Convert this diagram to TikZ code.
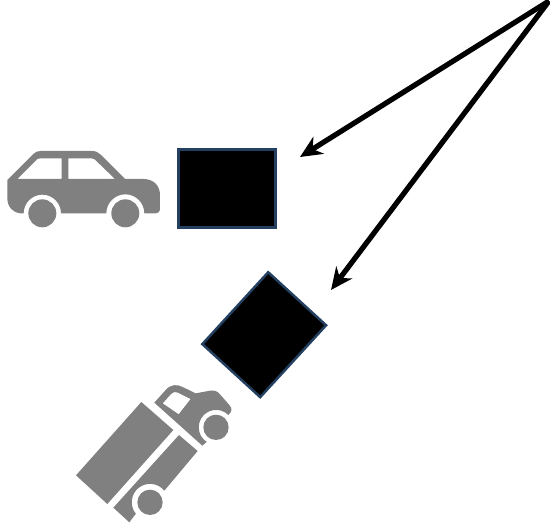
\documentclass[tikz,border=0pt]{standalone}
\usetikzlibrary{arrows.meta}
\definecolor{iconc}{HTML}{808080}
\definecolor{edgec}{HTML}{244061}

\begin{document}
\begin{tikzpicture}[
    x=0.02cm, y=-0.02cm,
    blockbox/.style={draw=edgec, fill=black, line width=0.05cm, minimum width=1.95cm, minimum height=1.57cm, inner sep=0pt, outer sep=0pt},
    arrow/.style={-{Stealth[length=0.44cm, width=0.4cm]}, line width=0.105cm},
    icon/.style={fill=iconc, even odd rule},
    zoomed/.style={x=0.02cm/3, y=-0.02cm/3}
]
\useasboundingbox (0,0) rectangle (550,523);

\node[blockbox] (block1) at (227,188.5) {};
\node[blockbox, rotate=47.5] (block2) at (264.2,334.7) {};

\coordinate (apex) at (549,1);
\coordinate (tip1) at (300,157);
\coordinate (tip2) at (331,290);
\draw[arrow] (apex) -- (tip1);
\draw[arrow] (apex) -- (tip2);

% car
\begin{scope}[shift={(0,130)}, zoomed]
\fill[icon] (22,150) -- (100,72) .. controls (108,65) and (112,63) .. (122,63) -- (275,63)
    .. controls (288,63) and (295,67) .. (302,74) -- (375,147) -- (430,147)
    .. controls (462,147) and (480,168) .. (480,195) -- (480,235)
    .. controls (480,245) and (475,250) .. (465,250) -- (433,250)
    arc (0:-180:57) -- (183,250) arc (0:-180:56) -- (62,250)
    .. controls (38,248) and (22,230) .. (22,205) -- cycle
    (52,147) -- (112,87) .. controls (114,85) and (116,85) .. (120,85) -- (185,85) -- (185,147) -- cycle
    (205,85) -- (275,85) .. controls (279,85) and (281,85) .. (284,88) -- (345,147) -- (205,147) -- cycle;
\fill[icon] (127,250) circle (42);
\fill[icon] (376,250) circle (42);
\end{scope}

% truck
\begin{scope}[shift={(70,370)}, zoomed]
\fill[icon] (214,96) -- (310,180) -- (112,402) -- (18,316) -- cycle;
\fill[icon] (327,195) -- (383,243) -- (283,362) arc (-39:-219:55) -- (178,457) -- (130,413) -- cycle;
\fill[icon] (253,98) -- (287,60) .. controls (303,42) and (322,42) .. (340,52) -- (377,70)
    -- (420,62) .. controls (435,60) and (442,64) .. (450,73) -- (478,105)
    .. controls (488,116) and (486,125) .. (475,135) arc (-45:-237.5:52) -- (397,227) -- cycle
    (278,100) -- (303,72) .. controls (310,65) and (316,64) .. (324,68) -- (362,87) -- (326,133) -- cycle;
\fill[icon] (438,172) circle (38);
\fill[icon] (240,397) circle (38);
\end{scope}

\end{tikzpicture}
\end{document}
